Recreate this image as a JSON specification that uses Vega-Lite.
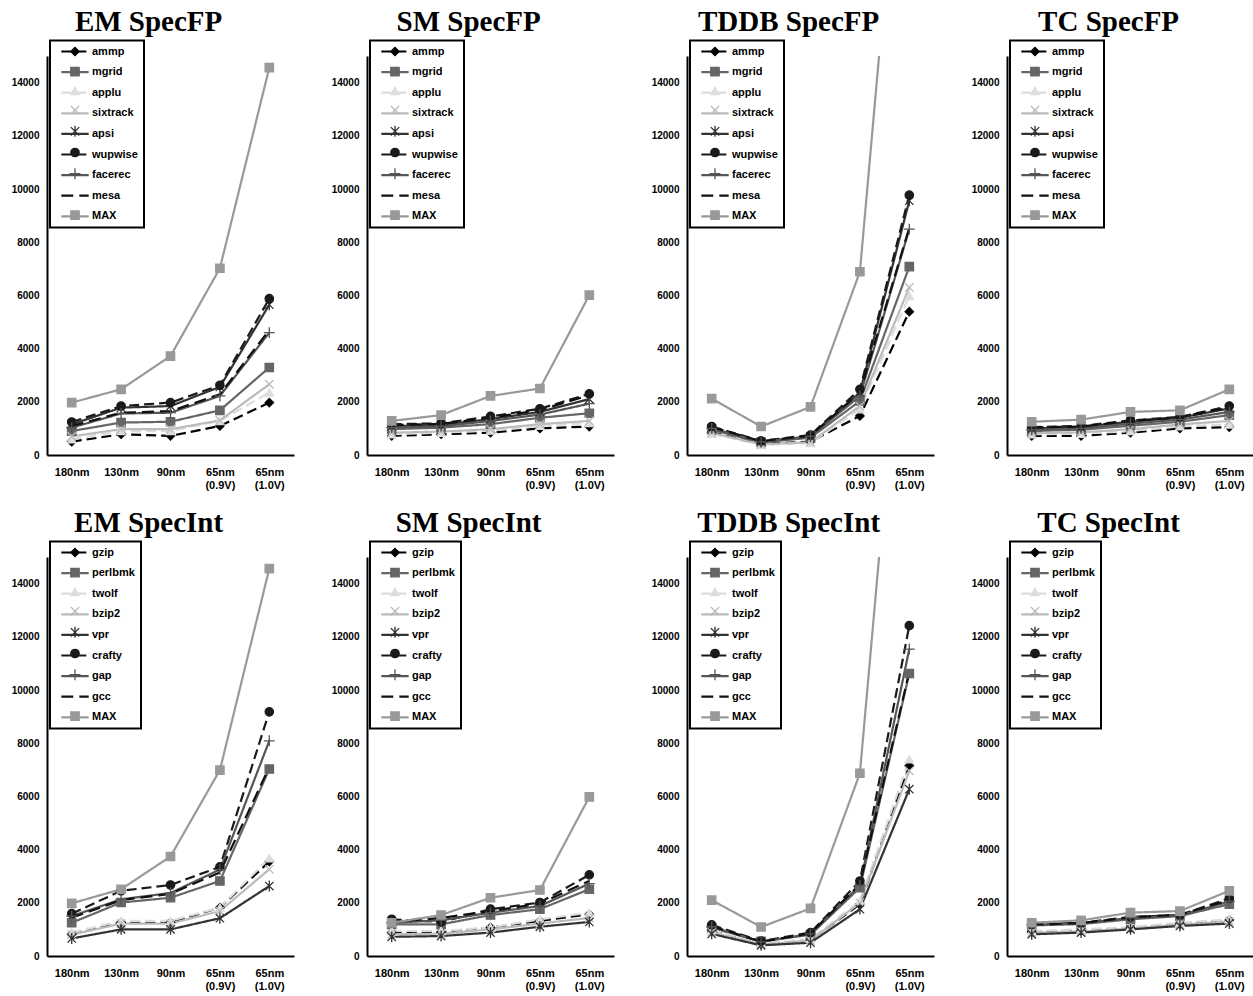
{
"$schema":"https://vega.github.io/schema/vega-lite/v6.json",
"padding":{"left":11,"top":7,"right":0,"bottom":0},
"datasets":{"d":[
{"p":"EF","s":"ammp","n":"180nm","v":500},{"p":"EF","s":"ammp","n":"130nm","v":780},{"p":"EF","s":"ammp","n":"90nm","v":720},{"p":"EF","s":"ammp","n":"65nm (0.9V)","v":1090},{"p":"EF","s":"ammp","n":"65nm (1.0V)","v":1970},
{"p":"EF","s":"mgrid","n":"180nm","v":900},{"p":"EF","s":"mgrid","n":"130nm","v":1220},{"p":"EF","s":"mgrid","n":"90nm","v":1250},{"p":"EF","s":"mgrid","n":"65nm (0.9V)","v":1680},{"p":"EF","s":"mgrid","n":"65nm (1.0V)","v":3290},
{"p":"EF","s":"applu","n":"180nm","v":590},{"p":"EF","s":"applu","n":"130nm","v":900},{"p":"EF","s":"applu","n":"90nm","v":900},{"p":"EF","s":"applu","n":"65nm (0.9V)","v":1280},{"p":"EF","s":"applu","n":"65nm (1.0V)","v":2350},
{"p":"EF","s":"sixtrack","n":"180nm","v":700},{"p":"EF","s":"sixtrack","n":"130nm","v":970},{"p":"EF","s":"sixtrack","n":"90nm","v":970},{"p":"EF","s":"sixtrack","n":"65nm (0.9V)","v":1300},{"p":"EF","s":"sixtrack","n":"65nm (1.0V)","v":2660},
{"p":"EF","s":"apsi","n":"180nm","v":1150},{"p":"EF","s":"apsi","n":"130nm","v":1780},{"p":"EF","s":"apsi","n":"90nm","v":1840},{"p":"EF","s":"apsi","n":"65nm (0.9V)","v":2560},{"p":"EF","s":"apsi","n":"65nm (1.0V)","v":5650},
{"p":"EF","s":"wupwise","n":"180nm","v":1240},{"p":"EF","s":"wupwise","n":"130nm","v":1840},{"p":"EF","s":"wupwise","n":"90nm","v":1970},{"p":"EF","s":"wupwise","n":"65nm (0.9V)","v":2620},{"p":"EF","s":"wupwise","n":"65nm (1.0V)","v":5880},
{"p":"EF","s":"facerec","n":"180nm","v":1030},{"p":"EF","s":"facerec","n":"130nm","v":1560},{"p":"EF","s":"facerec","n":"90nm","v":1590},{"p":"EF","s":"facerec","n":"65nm (0.9V)","v":2220},{"p":"EF","s":"facerec","n":"65nm (1.0V)","v":4600},
{"p":"EF","s":"mesa","n":"180nm","v":1090},{"p":"EF","s":"mesa","n":"130nm","v":1590},{"p":"EF","s":"mesa","n":"90nm","v":1650},{"p":"EF","s":"mesa","n":"65nm (0.9V)","v":2280},{"p":"EF","s":"mesa","n":"65nm (1.0V)","v":4700},
{"p":"EF","s":"MAX","n":"180nm","v":1970},{"p":"EF","s":"MAX","n":"130nm","v":2470},{"p":"EF","s":"MAX","n":"90nm","v":3720},{"p":"EF","s":"MAX","n":"65nm (0.9V)","v":7020},{"p":"EF","s":"MAX","n":"65nm (1.0V)","v":14560},
{"p":"SF","s":"ammp","n":"180nm","v":720},{"p":"SF","s":"ammp","n":"130nm","v":780},{"p":"SF","s":"ammp","n":"90nm","v":840},{"p":"SF","s":"ammp","n":"65nm (0.9V)","v":1000},{"p":"SF","s":"ammp","n":"65nm (1.0V)","v":1070},
{"p":"SF","s":"mgrid","n":"180nm","v":970},{"p":"SF","s":"mgrid","n":"130nm","v":1030},{"p":"SF","s":"mgrid","n":"90nm","v":1160},{"p":"SF","s":"mgrid","n":"65nm (0.9V)","v":1400},{"p":"SF","s":"mgrid","n":"65nm (1.0V)","v":1570},
{"p":"SF","s":"applu","n":"180nm","v":780},{"p":"SF","s":"applu","n":"130nm","v":840},{"p":"SF","s":"applu","n":"90nm","v":920},{"p":"SF","s":"applu","n":"65nm (0.9V)","v":1100},{"p":"SF","s":"applu","n":"65nm (1.0V)","v":1200},
{"p":"SF","s":"sixtrack","n":"180nm","v":840},{"p":"SF","s":"sixtrack","n":"130nm","v":880},{"p":"SF","s":"sixtrack","n":"90nm","v":970},{"p":"SF","s":"sixtrack","n":"65nm (0.9V)","v":1160},{"p":"SF","s":"sixtrack","n":"65nm (1.0V)","v":1280},
{"p":"SF","s":"apsi","n":"180nm","v":1080},{"p":"SF","s":"apsi","n":"130nm","v":1130},{"p":"SF","s":"apsi","n":"90nm","v":1350},{"p":"SF","s":"apsi","n":"65nm (0.9V)","v":1620},{"p":"SF","s":"apsi","n":"65nm (1.0V)","v":2100},
{"p":"SF","s":"wupwise","n":"180nm","v":1160},{"p":"SF","s":"wupwise","n":"130nm","v":1190},{"p":"SF","s":"wupwise","n":"90nm","v":1450},{"p":"SF","s":"wupwise","n":"65nm (0.9V)","v":1740},{"p":"SF","s":"wupwise","n":"65nm (1.0V)","v":2300},
{"p":"SF","s":"facerec","n":"180nm","v":1030},{"p":"SF","s":"facerec","n":"130nm","v":1080},{"p":"SF","s":"facerec","n":"90nm","v":1280},{"p":"SF","s":"facerec","n":"65nm (0.9V)","v":1520},{"p":"SF","s":"facerec","n":"65nm (1.0V)","v":1930},
{"p":"SF","s":"mesa","n":"180nm","v":1120},{"p":"SF","s":"mesa","n":"130nm","v":1170},{"p":"SF","s":"mesa","n":"90nm","v":1400},{"p":"SF","s":"mesa","n":"65nm (0.9V)","v":1690},{"p":"SF","s":"mesa","n":"65nm (1.0V)","v":2250},
{"p":"SF","s":"MAX","n":"180nm","v":1280},{"p":"SF","s":"MAX","n":"130nm","v":1500},{"p":"SF","s":"MAX","n":"90nm","v":2220},{"p":"SF","s":"MAX","n":"65nm (0.9V)","v":2500},{"p":"SF","s":"MAX","n":"65nm (1.0V)","v":6010},
{"p":"TF","s":"ammp","n":"180nm","v":850},{"p":"TF","s":"ammp","n":"130nm","v":420},{"p":"TF","s":"ammp","n":"90nm","v":500},{"p":"TF","s":"ammp","n":"65nm (0.9V)","v":1470},{"p":"TF","s":"ammp","n":"65nm (1.0V)","v":5390},
{"p":"TF","s":"mgrid","n":"180nm","v":950},{"p":"TF","s":"mgrid","n":"130nm","v":470},{"p":"TF","s":"mgrid","n":"90nm","v":650},{"p":"TF","s":"mgrid","n":"65nm (0.9V)","v":2030},{"p":"TF","s":"mgrid","n":"65nm (1.0V)","v":7080},
{"p":"TF","s":"applu","n":"180nm","v":800},{"p":"TF","s":"applu","n":"130nm","v":380},{"p":"TF","s":"applu","n":"90nm","v":450},{"p":"TF","s":"applu","n":"65nm (0.9V)","v":1720},{"p":"TF","s":"applu","n":"65nm (1.0V)","v":5980},
{"p":"TF","s":"sixtrack","n":"180nm","v":830},{"p":"TF","s":"sixtrack","n":"130nm","v":400},{"p":"TF","s":"sixtrack","n":"90nm","v":480},{"p":"TF","s":"sixtrack","n":"65nm (0.9V)","v":1840},{"p":"TF","s":"sixtrack","n":"65nm (1.0V)","v":6300},
{"p":"TF","s":"apsi","n":"180nm","v":1000},{"p":"TF","s":"apsi","n":"130nm","v":500},{"p":"TF","s":"apsi","n":"90nm","v":700},{"p":"TF","s":"apsi","n":"65nm (0.9V)","v":2350},{"p":"TF","s":"apsi","n":"65nm (1.0V)","v":9560},
{"p":"TF","s":"wupwise","n":"180nm","v":1070},{"p":"TF","s":"wupwise","n":"130nm","v":530},{"p":"TF","s":"wupwise","n":"90nm","v":750},{"p":"TF","s":"wupwise","n":"65nm (0.9V)","v":2470},{"p":"TF","s":"wupwise","n":"65nm (1.0V)","v":9770},
{"p":"TF","s":"facerec","n":"180nm","v":1000},{"p":"TF","s":"facerec","n":"130nm","v":490},{"p":"TF","s":"facerec","n":"90nm","v":700},{"p":"TF","s":"facerec","n":"65nm (0.9V)","v":2220},{"p":"TF","s":"facerec","n":"65nm (1.0V)","v":8490},
{"p":"TF","s":"mesa","n":"180nm","v":1050},{"p":"TF","s":"mesa","n":"130nm","v":520},{"p":"TF","s":"mesa","n":"90nm","v":730},{"p":"TF","s":"mesa","n":"65nm (0.9V)","v":2350},{"p":"TF","s":"mesa","n":"65nm (1.0V)","v":8550},
{"p":"TF","s":"MAX","n":"180nm","v":2120},{"p":"TF","s":"MAX","n":"130nm","v":1070},{"p":"TF","s":"MAX","n":"90nm","v":1810},{"p":"TF","s":"MAX","n":"65nm (0.9V)","v":6890},{"p":"TF","s":"MAX","n":"65nm (1.0V)","v":27800},
{"p":"CF","s":"ammp","n":"180nm","v":720},{"p":"CF","s":"ammp","n":"130nm","v":720},{"p":"CF","s":"ammp","n":"90nm","v":840},{"p":"CF","s":"ammp","n":"65nm (0.9V)","v":1000},{"p":"CF","s":"ammp","n":"65nm (1.0V)","v":1050},
{"p":"CF","s":"mgrid","n":"180nm","v":900},{"p":"CF","s":"mgrid","n":"130nm","v":950},{"p":"CF","s":"mgrid","n":"90nm","v":1100},{"p":"CF","s":"mgrid","n":"65nm (0.9V)","v":1250},{"p":"CF","s":"mgrid","n":"65nm (1.0V)","v":1500},
{"p":"CF","s":"applu","n":"180nm","v":780},{"p":"CF","s":"applu","n":"130nm","v":800},{"p":"CF","s":"applu","n":"90nm","v":900},{"p":"CF","s":"applu","n":"65nm (0.9V)","v":1080},{"p":"CF","s":"applu","n":"65nm (1.0V)","v":1150},
{"p":"CF","s":"sixtrack","n":"180nm","v":820},{"p":"CF","s":"sixtrack","n":"130nm","v":850},{"p":"CF","s":"sixtrack","n":"90nm","v":970},{"p":"CF","s":"sixtrack","n":"65nm (0.9V)","v":1150},{"p":"CF","s":"sixtrack","n":"65nm (1.0V)","v":1280},
{"p":"CF","s":"apsi","n":"180nm","v":1000},{"p":"CF","s":"apsi","n":"130nm","v":1050},{"p":"CF","s":"apsi","n":"90nm","v":1250},{"p":"CF","s":"apsi","n":"65nm (0.9V)","v":1400},{"p":"CF","s":"apsi","n":"65nm (1.0V)","v":1750},
{"p":"CF","s":"wupwise","n":"180nm","v":1050},{"p":"CF","s":"wupwise","n":"130nm","v":1090},{"p":"CF","s":"wupwise","n":"90nm","v":1300},{"p":"CF","s":"wupwise","n":"65nm (0.9V)","v":1430},{"p":"CF","s":"wupwise","n":"65nm (1.0V)","v":1840},
{"p":"CF","s":"facerec","n":"180nm","v":950},{"p":"CF","s":"facerec","n":"130nm","v":1000},{"p":"CF","s":"facerec","n":"90nm","v":1180},{"p":"CF","s":"facerec","n":"65nm (0.9V)","v":1330},{"p":"CF","s":"facerec","n":"65nm (1.0V)","v":1620},
{"p":"CF","s":"mesa","n":"180nm","v":1030},{"p":"CF","s":"mesa","n":"130nm","v":1070},{"p":"CF","s":"mesa","n":"90nm","v":1280},{"p":"CF","s":"mesa","n":"65nm (0.9V)","v":1420},{"p":"CF","s":"mesa","n":"65nm (1.0V)","v":1780},
{"p":"CF","s":"MAX","n":"180nm","v":1250},{"p":"CF","s":"MAX","n":"130nm","v":1330},{"p":"CF","s":"MAX","n":"90nm","v":1620},{"p":"CF","s":"MAX","n":"65nm (0.9V)","v":1680},{"p":"CF","s":"MAX","n":"65nm (1.0V)","v":2470},
{"p":"EI","s":"gzip","n":"180nm","v":815},{"p":"EI","s":"gzip","n":"130nm","v":1260},{"p":"EI","s":"gzip","n":"90nm","v":1260},{"p":"EI","s":"gzip","n":"65nm (0.9V)","v":1820},{"p":"EI","s":"gzip","n":"65nm (1.0V)","v":3550},
{"p":"EI","s":"perlbmk","n":"180nm","v":1250},{"p":"EI","s":"perlbmk","n":"130nm","v":2010},{"p":"EI","s":"perlbmk","n":"90nm","v":2190},{"p":"EI","s":"perlbmk","n":"65nm (0.9V)","v":2820},{"p":"EI","s":"perlbmk","n":"65nm (1.0V)","v":7030},
{"p":"EI","s":"twolf","n":"180nm","v":880},{"p":"EI","s":"twolf","n":"130nm","v":1320},{"p":"EI","s":"twolf","n":"90nm","v":1320},{"p":"EI","s":"twolf","n":"65nm (0.9V)","v":1820},{"p":"EI","s":"twolf","n":"65nm (1.0V)","v":3680},
{"p":"EI","s":"bzip2","n":"180nm","v":800},{"p":"EI","s":"bzip2","n":"130nm","v":1220},{"p":"EI","s":"bzip2","n":"90nm","v":1220},{"p":"EI","s":"bzip2","n":"65nm (0.9V)","v":1690},{"p":"EI","s":"bzip2","n":"65nm (1.0V)","v":3260},
{"p":"EI","s":"vpr","n":"180nm","v":660},{"p":"EI","s":"vpr","n":"130nm","v":1000},{"p":"EI","s":"vpr","n":"90nm","v":1000},{"p":"EI","s":"vpr","n":"65nm (0.9V)","v":1420},{"p":"EI","s":"vpr","n":"65nm (1.0V)","v":2630},
{"p":"EI","s":"crafty","n":"180nm","v":1590},{"p":"EI","s":"crafty","n":"130nm","v":2450},{"p":"EI","s":"crafty","n":"90nm","v":2670},{"p":"EI","s":"crafty","n":"65nm (0.9V)","v":3350},{"p":"EI","s":"crafty","n":"65nm (1.0V)","v":9180},
{"p":"EI","s":"gap","n":"180nm","v":1500},{"p":"EI","s":"gap","n":"130nm","v":2130},{"p":"EI","s":"gap","n":"90nm","v":2370},{"p":"EI","s":"gap","n":"65nm (0.9V)","v":3250},{"p":"EI","s":"gap","n":"65nm (1.0V)","v":8090},
{"p":"EI","s":"gcc","n":"180nm","v":1440},{"p":"EI","s":"gcc","n":"130nm","v":2100},{"p":"EI","s":"gcc","n":"90nm","v":2340},{"p":"EI","s":"gcc","n":"65nm (0.9V)","v":3140},{"p":"EI","s":"gcc","n":"65nm (1.0V)","v":7100},
{"p":"EI","s":"MAX","n":"180nm","v":1980},{"p":"EI","s":"MAX","n":"130nm","v":2510},{"p":"EI","s":"MAX","n":"90nm","v":3740},{"p":"EI","s":"MAX","n":"65nm (0.9V)","v":6990},{"p":"EI","s":"MAX","n":"65nm (1.0V)","v":14560},
{"p":"SI","s":"gzip","n":"180nm","v":880},{"p":"SI","s":"gzip","n":"130nm","v":900},{"p":"SI","s":"gzip","n":"90nm","v":1070},{"p":"SI","s":"gzip","n":"65nm (0.9V)","v":1320},{"p":"SI","s":"gzip","n":"65nm (1.0V)","v":1570},
{"p":"SI","s":"perlbmk","n":"180nm","v":1190},{"p":"SI","s":"perlbmk","n":"130nm","v":1190},{"p":"SI","s":"perlbmk","n":"90nm","v":1540},{"p":"SI","s":"perlbmk","n":"65nm (0.9V)","v":1760},{"p":"SI","s":"perlbmk","n":"65nm (1.0V)","v":2510},
{"p":"SI","s":"twolf","n":"180nm","v":940},{"p":"SI","s":"twolf","n":"130nm","v":940},{"p":"SI","s":"twolf","n":"90nm","v":1070},{"p":"SI","s":"twolf","n":"65nm (0.9V)","v":1380},{"p":"SI","s":"twolf","n":"65nm (1.0V)","v":1630},
{"p":"SI","s":"bzip2","n":"180nm","v":820},{"p":"SI","s":"bzip2","n":"130nm","v":840},{"p":"SI","s":"bzip2","n":"90nm","v":1000},{"p":"SI","s":"bzip2","n":"65nm (0.9V)","v":1220},{"p":"SI","s":"bzip2","n":"65nm (1.0V)","v":1430},
{"p":"SI","s":"vpr","n":"180nm","v":720},{"p":"SI","s":"vpr","n":"130nm","v":750},{"p":"SI","s":"vpr","n":"90nm","v":880},{"p":"SI","s":"vpr","n":"65nm (0.9V)","v":1100},{"p":"SI","s":"vpr","n":"65nm (1.0V)","v":1280},
{"p":"SI","s":"crafty","n":"180nm","v":1380},{"p":"SI","s":"crafty","n":"130nm","v":1280},{"p":"SI","s":"crafty","n":"90nm","v":1760},{"p":"SI","s":"crafty","n":"65nm (0.9V)","v":2010},{"p":"SI","s":"crafty","n":"65nm (1.0V)","v":3050},
{"p":"SI","s":"gap","n":"180nm","v":1250},{"p":"SI","s":"gap","n":"130nm","v":1340},{"p":"SI","s":"gap","n":"90nm","v":1630},{"p":"SI","s":"gap","n":"65nm (0.9V)","v":1880},{"p":"SI","s":"gap","n":"65nm (1.0V)","v":2720},
{"p":"SI","s":"gcc","n":"180nm","v":1280},{"p":"SI","s":"gcc","n":"130nm","v":1430},{"p":"SI","s":"gcc","n":"90nm","v":1690},{"p":"SI","s":"gcc","n":"65nm (0.9V)","v":1970},{"p":"SI","s":"gcc","n":"65nm (1.0V)","v":2820},
{"p":"SI","s":"MAX","n":"180nm","v":1250},{"p":"SI","s":"MAX","n":"130nm","v":1540},{"p":"SI","s":"MAX","n":"90nm","v":2190},{"p":"SI","s":"MAX","n":"65nm (0.9V)","v":2480},{"p":"SI","s":"MAX","n":"65nm (1.0V)","v":5980},
{"p":"TI","s":"gzip","n":"180nm","v":950},{"p":"TI","s":"gzip","n":"130nm","v":450},{"p":"TI","s":"gzip","n":"90nm","v":600},{"p":"TI","s":"gzip","n":"65nm (0.9V)","v":1950},{"p":"TI","s":"gzip","n":"65nm (1.0V)","v":7150},
{"p":"TI","s":"perlbmk","n":"180nm","v":1050},{"p":"TI","s":"perlbmk","n":"130nm","v":550},{"p":"TI","s":"perlbmk","n":"90nm","v":800},{"p":"TI","s":"perlbmk","n":"65nm (0.9V)","v":2570},{"p":"TI","s":"perlbmk","n":"65nm (1.0V)","v":10620},
{"p":"TI","s":"twolf","n":"180nm","v":980},{"p":"TI","s":"twolf","n":"130nm","v":470},{"p":"TI","s":"twolf","n":"90nm","v":650},{"p":"TI","s":"twolf","n":"65nm (0.9V)","v":2070},{"p":"TI","s":"twolf","n":"65nm (1.0V)","v":7400},
{"p":"TI","s":"bzip2","n":"180nm","v":900},{"p":"TI","s":"bzip2","n":"130nm","v":430},{"p":"TI","s":"bzip2","n":"90nm","v":580},{"p":"TI","s":"bzip2","n":"65nm (0.9V)","v":2000},{"p":"TI","s":"bzip2","n":"65nm (1.0V)","v":6960},
{"p":"TI","s":"vpr","n":"180nm","v":830},{"p":"TI","s":"vpr","n":"130nm","v":400},{"p":"TI","s":"vpr","n":"90nm","v":500},{"p":"TI","s":"vpr","n":"65nm (0.9V)","v":1760},{"p":"TI","s":"vpr","n":"65nm (1.0V)","v":6270},
{"p":"TI","s":"crafty","n":"180nm","v":1170},{"p":"TI","s":"crafty","n":"130nm","v":560},{"p":"TI","s":"crafty","n":"90nm","v":880},{"p":"TI","s":"crafty","n":"65nm (0.9V)","v":2820},{"p":"TI","s":"crafty","n":"65nm (1.0V)","v":12420},
{"p":"TI","s":"gap","n":"180nm","v":1100},{"p":"TI","s":"gap","n":"130nm","v":530},{"p":"TI","s":"gap","n":"90nm","v":830},{"p":"TI","s":"gap","n":"65nm (0.9V)","v":2650},{"p":"TI","s":"gap","n":"65nm (1.0V)","v":11540},
{"p":"TI","s":"gcc","n":"180nm","v":1120},{"p":"TI","s":"gcc","n":"130nm","v":540},{"p":"TI","s":"gcc","n":"90nm","v":850},{"p":"TI","s":"gcc","n":"65nm (0.9V)","v":2700},{"p":"TI","s":"gcc","n":"65nm (1.0V)","v":10700},
{"p":"TI","s":"MAX","n":"180nm","v":2100},{"p":"TI","s":"MAX","n":"130nm","v":1090},{"p":"TI","s":"MAX","n":"90nm","v":1790},{"p":"TI","s":"MAX","n":"65nm (0.9V)","v":6870},{"p":"TI","s":"MAX","n":"65nm (1.0V)","v":27800},
{"p":"CI","s":"gzip","n":"180nm","v":900},{"p":"CI","s":"gzip","n":"130nm","v":950},{"p":"CI","s":"gzip","n":"90nm","v":1050},{"p":"CI","s":"gzip","n":"65nm (0.9V)","v":1200},{"p":"CI","s":"gzip","n":"65nm (1.0V)","v":1350},
{"p":"CI","s":"perlbmk","n":"180nm","v":1150},{"p":"CI","s":"perlbmk","n":"130nm","v":1200},{"p":"CI","s":"perlbmk","n":"90nm","v":1380},{"p":"CI","s":"perlbmk","n":"65nm (0.9V)","v":1500},{"p":"CI","s":"perlbmk","n":"65nm (1.0V)","v":1950},
{"p":"CI","s":"twolf","n":"180nm","v":940},{"p":"CI","s":"twolf","n":"130nm","v":1000},{"p":"CI","s":"twolf","n":"90nm","v":1090},{"p":"CI","s":"twolf","n":"65nm (0.9V)","v":1250},{"p":"CI","s":"twolf","n":"65nm (1.0V)","v":1380},
{"p":"CI","s":"bzip2","n":"180nm","v":870},{"p":"CI","s":"bzip2","n":"130nm","v":920},{"p":"CI","s":"bzip2","n":"90nm","v":1030},{"p":"CI","s":"bzip2","n":"65nm (0.9V)","v":1180},{"p":"CI","s":"bzip2","n":"65nm (1.0V)","v":1300},
{"p":"CI","s":"vpr","n":"180nm","v":815},{"p":"CI","s":"vpr","n":"130nm","v":880},{"p":"CI","s":"vpr","n":"90nm","v":1000},{"p":"CI","s":"vpr","n":"65nm (0.9V)","v":1130},{"p":"CI","s":"vpr","n":"65nm (1.0V)","v":1220},
{"p":"CI","s":"crafty","n":"180nm","v":1190},{"p":"CI","s":"crafty","n":"130nm","v":1250},{"p":"CI","s":"crafty","n":"90nm","v":1470},{"p":"CI","s":"crafty","n":"65nm (0.9V)","v":1540},{"p":"CI","s":"crafty","n":"65nm (1.0V)","v":2170},
{"p":"CI","s":"gap","n":"180nm","v":1170},{"p":"CI","s":"gap","n":"130nm","v":1230},{"p":"CI","s":"gap","n":"90nm","v":1430},{"p":"CI","s":"gap","n":"65nm (0.9V)","v":1520},{"p":"CI","s":"gap","n":"65nm (1.0V)","v":2050},
{"p":"CI","s":"gcc","n":"180nm","v":1180},{"p":"CI","s":"gcc","n":"130nm","v":1240},{"p":"CI","s":"gcc","n":"90nm","v":1450},{"p":"CI","s":"gcc","n":"65nm (0.9V)","v":1560},{"p":"CI","s":"gcc","n":"65nm (1.0V)","v":2100},
{"p":"CI","s":"MAX","n":"180nm","v":1250},{"p":"CI","s":"MAX","n":"130nm","v":1340},{"p":"CI","s":"MAX","n":"90nm","v":1630},{"p":"CI","s":"MAX","n":"65nm (0.9V)","v":1690},{"p":"CI","s":"MAX","n":"65nm (1.0V)","v":2450}
]},
"data":{"name":"d"},
"columns":4,
"bounds":"flush",
"spacing":{"row":102,"column":73},
"concat":[
{"title":"EM SpecFP","transform":[{"filter":"datum.p=='EF'"}],"width":247,"height":399,
"encoding":{"x":{"field":"n","type":"ordinal","title":null,"scale":{"type":"point","domain":["180nm","130nm","90nm","65nm (0.9V)","65nm (1.0V)"],"padding":0.5}},"y":{"field":"v","type":"quantitative","title":null,"scale":{"domain":[0,15000],"nice":false},"axis":{"values":[0,2000,4000,6000,8000,10000,12000,14000]}}},
"layer":[
{"mark":{"type":"line","clip":true,"strokeWidth":2.2},"encoding":{"color":{"field":"s","type":"nominal","scale":{"domain":["ammp","mgrid","applu","sixtrack","apsi","wupwise","facerec","mesa","MAX"],"range":["#000000","#666666","#dddddd","#bbbbbb","#333333","#1a1a1a","#555555","#111111","#999999"]},"legend":{"orient":"none","legendX":3,"legendY":-15.5,"title":null,"symbolType":"M-3.27,0H3.27","symbolStrokeWidth":2.2,"zindex":1}},"strokeDash":{"field":"s","type":"nominal","scale":{"domain":["ammp","mgrid","applu","sixtrack","apsi","wupwise","facerec","mesa","MAX"],"range":[[10,5],[1,0],[10,5],[1,0],[1,0],[10,5],[1,0],[12,6],[1,0]]},"legend":null}}},
{"transform":[{"filter":"datum.s!='mesa'&&datum.s!='gcc'"}],"mark":{"type":"point","clip":true,"filled":true,"opacity":1,"size":70,"strokeWidth":1.3},"encoding":{"shape":{"field":"s","type":"nominal","scale":{"domain":["ammp","mgrid","applu","sixtrack","apsi","wupwise","facerec","mesa","MAX","zz"],"range":["diamond","square","triangle-up","M-1,-1L1,1M-1,1L1,-1","M-1,-1L1,1M-1,1L1,-1M0,-1.3V1.3","circle","M-1.3,0H1.3M0,-1.3V1.3","circle","square","circle"]},"legend":{"orient":"none","legendX":3,"legendY":-15.5,"title":null,"values":["ammp","mgrid","applu","sixtrack","apsi","wupwise","facerec","mesa","MAX"],"strokeColor":"transparent","labelExpr":"''","rowPadding":5.2,"symbolStrokeWidth":1.3,"zindex":2}},"fill":{"field":"s","type":"nominal","scale":{"domain":["ammp","mgrid","applu","sixtrack","apsi","wupwise","facerec","mesa","MAX","zz"],"range":["#000000","#666666","#dddddd","#bbbbbb","#333333","#1a1a1a","#555555","transparent","#999999","transparent"]},"legend":null},"stroke":{"field":"s","type":"nominal","scale":{"domain":["ammp","mgrid","applu","sixtrack","apsi","wupwise","facerec","mesa","MAX","zz"],"range":["#000000","#666666","#dddddd","#bbbbbb","#333333","#1a1a1a","#555555","transparent","#999999","transparent"]},"legend":null}}}
]},
{"title":"SM SpecFP","transform":[{"filter":"datum.p=='SF'"}],"width":247,"height":399,
"encoding":{"x":{"field":"n","type":"ordinal","title":null,"scale":{"type":"point","domain":["180nm","130nm","90nm","65nm (0.9V)","65nm (1.0V)"],"padding":0.5}},"y":{"field":"v","type":"quantitative","title":null,"scale":{"domain":[0,15000],"nice":false},"axis":{"values":[0,2000,4000,6000,8000,10000,12000,14000]}}},
"layer":[
{"mark":{"type":"line","clip":true,"strokeWidth":2.2},"encoding":{"color":{"field":"s","type":"nominal","scale":{"domain":["ammp","mgrid","applu","sixtrack","apsi","wupwise","facerec","mesa","MAX"],"range":["#000000","#666666","#dddddd","#bbbbbb","#333333","#1a1a1a","#555555","#111111","#999999"]},"legend":{"orient":"none","legendX":3,"legendY":-15.5,"title":null,"symbolType":"M-3.27,0H3.27","symbolStrokeWidth":2.2,"zindex":1}},"strokeDash":{"field":"s","type":"nominal","scale":{"domain":["ammp","mgrid","applu","sixtrack","apsi","wupwise","facerec","mesa","MAX"],"range":[[10,5],[1,0],[10,5],[1,0],[1,0],[10,5],[1,0],[12,6],[1,0]]},"legend":null}}},
{"transform":[{"filter":"datum.s!='mesa'&&datum.s!='gcc'"}],"mark":{"type":"point","clip":true,"filled":true,"opacity":1,"size":70,"strokeWidth":1.3},"encoding":{"shape":{"field":"s","type":"nominal","scale":{"domain":["ammp","mgrid","applu","sixtrack","apsi","wupwise","facerec","mesa","MAX","zz"],"range":["diamond","square","triangle-up","M-1,-1L1,1M-1,1L1,-1","M-1,-1L1,1M-1,1L1,-1M0,-1.3V1.3","circle","M-1.3,0H1.3M0,-1.3V1.3","circle","square","circle"]},"legend":{"orient":"none","legendX":3,"legendY":-15.5,"title":null,"values":["ammp","mgrid","applu","sixtrack","apsi","wupwise","facerec","mesa","MAX"],"strokeColor":"transparent","labelExpr":"''","rowPadding":5.2,"symbolStrokeWidth":1.3,"zindex":2}},"fill":{"field":"s","type":"nominal","scale":{"domain":["ammp","mgrid","applu","sixtrack","apsi","wupwise","facerec","mesa","MAX","zz"],"range":["#000000","#666666","#dddddd","#bbbbbb","#333333","#1a1a1a","#555555","transparent","#999999","transparent"]},"legend":null},"stroke":{"field":"s","type":"nominal","scale":{"domain":["ammp","mgrid","applu","sixtrack","apsi","wupwise","facerec","mesa","MAX","zz"],"range":["#000000","#666666","#dddddd","#bbbbbb","#333333","#1a1a1a","#555555","transparent","#999999","transparent"]},"legend":null}}}
]},
{"title":"TDDB SpecFP","transform":[{"filter":"datum.p=='TF'"}],"width":247,"height":399,
"encoding":{"x":{"field":"n","type":"ordinal","title":null,"scale":{"type":"point","domain":["180nm","130nm","90nm","65nm (0.9V)","65nm (1.0V)"],"padding":0.5}},"y":{"field":"v","type":"quantitative","title":null,"scale":{"domain":[0,15000],"nice":false},"axis":{"values":[0,2000,4000,6000,8000,10000,12000,14000]}}},
"layer":[
{"mark":{"type":"line","clip":true,"strokeWidth":2.2},"encoding":{"color":{"field":"s","type":"nominal","scale":{"domain":["ammp","mgrid","applu","sixtrack","apsi","wupwise","facerec","mesa","MAX"],"range":["#000000","#666666","#dddddd","#bbbbbb","#333333","#1a1a1a","#555555","#111111","#999999"]},"legend":{"orient":"none","legendX":3,"legendY":-15.5,"title":null,"symbolType":"M-3.27,0H3.27","symbolStrokeWidth":2.2,"zindex":1}},"strokeDash":{"field":"s","type":"nominal","scale":{"domain":["ammp","mgrid","applu","sixtrack","apsi","wupwise","facerec","mesa","MAX"],"range":[[10,5],[1,0],[10,5],[1,0],[1,0],[10,5],[1,0],[12,6],[1,0]]},"legend":null}}},
{"transform":[{"filter":"datum.s!='mesa'&&datum.s!='gcc'"}],"mark":{"type":"point","clip":true,"filled":true,"opacity":1,"size":70,"strokeWidth":1.3},"encoding":{"shape":{"field":"s","type":"nominal","scale":{"domain":["ammp","mgrid","applu","sixtrack","apsi","wupwise","facerec","mesa","MAX","zz"],"range":["diamond","square","triangle-up","M-1,-1L1,1M-1,1L1,-1","M-1,-1L1,1M-1,1L1,-1M0,-1.3V1.3","circle","M-1.3,0H1.3M0,-1.3V1.3","circle","square","circle"]},"legend":{"orient":"none","legendX":3,"legendY":-15.5,"title":null,"values":["ammp","mgrid","applu","sixtrack","apsi","wupwise","facerec","mesa","MAX"],"strokeColor":"transparent","labelExpr":"''","rowPadding":5.2,"symbolStrokeWidth":1.3,"zindex":2}},"fill":{"field":"s","type":"nominal","scale":{"domain":["ammp","mgrid","applu","sixtrack","apsi","wupwise","facerec","mesa","MAX","zz"],"range":["#000000","#666666","#dddddd","#bbbbbb","#333333","#1a1a1a","#555555","transparent","#999999","transparent"]},"legend":null},"stroke":{"field":"s","type":"nominal","scale":{"domain":["ammp","mgrid","applu","sixtrack","apsi","wupwise","facerec","mesa","MAX","zz"],"range":["#000000","#666666","#dddddd","#bbbbbb","#333333","#1a1a1a","#555555","transparent","#999999","transparent"]},"legend":null}}}
]},
{"title":"TC SpecFP","transform":[{"filter":"datum.p=='CF'"}],"width":247,"height":399,
"encoding":{"x":{"field":"n","type":"ordinal","title":null,"scale":{"type":"point","domain":["180nm","130nm","90nm","65nm (0.9V)","65nm (1.0V)"],"padding":0.5}},"y":{"field":"v","type":"quantitative","title":null,"scale":{"domain":[0,15000],"nice":false},"axis":{"values":[0,2000,4000,6000,8000,10000,12000,14000]}}},
"layer":[
{"mark":{"type":"line","clip":true,"strokeWidth":2.2},"encoding":{"color":{"field":"s","type":"nominal","scale":{"domain":["ammp","mgrid","applu","sixtrack","apsi","wupwise","facerec","mesa","MAX"],"range":["#000000","#666666","#dddddd","#bbbbbb","#333333","#1a1a1a","#555555","#111111","#999999"]},"legend":{"orient":"none","legendX":3,"legendY":-15.5,"title":null,"symbolType":"M-3.27,0H3.27","symbolStrokeWidth":2.2,"zindex":1}},"strokeDash":{"field":"s","type":"nominal","scale":{"domain":["ammp","mgrid","applu","sixtrack","apsi","wupwise","facerec","mesa","MAX"],"range":[[10,5],[1,0],[10,5],[1,0],[1,0],[10,5],[1,0],[12,6],[1,0]]},"legend":null}}},
{"transform":[{"filter":"datum.s!='mesa'&&datum.s!='gcc'"}],"mark":{"type":"point","clip":true,"filled":true,"opacity":1,"size":70,"strokeWidth":1.3},"encoding":{"shape":{"field":"s","type":"nominal","scale":{"domain":["ammp","mgrid","applu","sixtrack","apsi","wupwise","facerec","mesa","MAX","zz"],"range":["diamond","square","triangle-up","M-1,-1L1,1M-1,1L1,-1","M-1,-1L1,1M-1,1L1,-1M0,-1.3V1.3","circle","M-1.3,0H1.3M0,-1.3V1.3","circle","square","circle"]},"legend":{"orient":"none","legendX":3,"legendY":-15.5,"title":null,"values":["ammp","mgrid","applu","sixtrack","apsi","wupwise","facerec","mesa","MAX"],"strokeColor":"transparent","labelExpr":"''","rowPadding":5.2,"symbolStrokeWidth":1.3,"zindex":2}},"fill":{"field":"s","type":"nominal","scale":{"domain":["ammp","mgrid","applu","sixtrack","apsi","wupwise","facerec","mesa","MAX","zz"],"range":["#000000","#666666","#dddddd","#bbbbbb","#333333","#1a1a1a","#555555","transparent","#999999","transparent"]},"legend":null},"stroke":{"field":"s","type":"nominal","scale":{"domain":["ammp","mgrid","applu","sixtrack","apsi","wupwise","facerec","mesa","MAX","zz"],"range":["#000000","#666666","#dddddd","#bbbbbb","#333333","#1a1a1a","#555555","transparent","#999999","transparent"]},"legend":null}}}
]},
{"title":"EM SpecInt","transform":[{"filter":"datum.p=='EI'"}],"width":247,"height":399,
"encoding":{"x":{"field":"n","type":"ordinal","title":null,"scale":{"type":"point","domain":["180nm","130nm","90nm","65nm (0.9V)","65nm (1.0V)"],"padding":0.5}},"y":{"field":"v","type":"quantitative","title":null,"scale":{"domain":[0,15000],"nice":false},"axis":{"values":[0,2000,4000,6000,8000,10000,12000,14000]}}},
"layer":[
{"mark":{"type":"line","clip":true,"strokeWidth":2.2},"encoding":{"color":{"field":"s","type":"nominal","scale":{"domain":["gzip","perlbmk","twolf","bzip2","vpr","crafty","gap","gcc","MAX"],"range":["#000000","#666666","#dddddd","#bbbbbb","#333333","#1a1a1a","#555555","#111111","#999999"]},"legend":{"orient":"none","legendX":3,"legendY":-15.5,"title":null,"symbolType":"M-3.27,0H3.27","symbolStrokeWidth":2.2,"zindex":1}},"strokeDash":{"field":"s","type":"nominal","scale":{"domain":["gzip","perlbmk","twolf","bzip2","vpr","crafty","gap","gcc","MAX"],"range":[[10,5],[1,0],[10,5],[1,0],[1,0],[10,5],[1,0],[12,6],[1,0]]},"legend":null}}},
{"transform":[{"filter":"datum.s!='mesa'&&datum.s!='gcc'"}],"mark":{"type":"point","clip":true,"filled":true,"opacity":1,"size":70,"strokeWidth":1.3},"encoding":{"shape":{"field":"s","type":"nominal","scale":{"domain":["gzip","perlbmk","twolf","bzip2","vpr","crafty","gap","gcc","MAX","zz"],"range":["diamond","square","triangle-up","M-1,-1L1,1M-1,1L1,-1","M-1,-1L1,1M-1,1L1,-1M0,-1.3V1.3","circle","M-1.3,0H1.3M0,-1.3V1.3","circle","square","circle"]},"legend":{"orient":"none","legendX":3,"legendY":-15.5,"title":null,"values":["gzip","perlbmk","twolf","bzip2","vpr","crafty","gap","gcc","MAX"],"strokeColor":"transparent","labelExpr":"''","rowPadding":5.2,"symbolStrokeWidth":1.3,"zindex":2}},"fill":{"field":"s","type":"nominal","scale":{"domain":["gzip","perlbmk","twolf","bzip2","vpr","crafty","gap","gcc","MAX","zz"],"range":["#000000","#666666","#dddddd","#bbbbbb","#333333","#1a1a1a","#555555","transparent","#999999","transparent"]},"legend":null},"stroke":{"field":"s","type":"nominal","scale":{"domain":["gzip","perlbmk","twolf","bzip2","vpr","crafty","gap","gcc","MAX","zz"],"range":["#000000","#666666","#dddddd","#bbbbbb","#333333","#1a1a1a","#555555","transparent","#999999","transparent"]},"legend":null}}}
]},
{"title":"SM SpecInt","transform":[{"filter":"datum.p=='SI'"}],"width":247,"height":399,
"encoding":{"x":{"field":"n","type":"ordinal","title":null,"scale":{"type":"point","domain":["180nm","130nm","90nm","65nm (0.9V)","65nm (1.0V)"],"padding":0.5}},"y":{"field":"v","type":"quantitative","title":null,"scale":{"domain":[0,15000],"nice":false},"axis":{"values":[0,2000,4000,6000,8000,10000,12000,14000]}}},
"layer":[
{"mark":{"type":"line","clip":true,"strokeWidth":2.2},"encoding":{"color":{"field":"s","type":"nominal","scale":{"domain":["gzip","perlbmk","twolf","bzip2","vpr","crafty","gap","gcc","MAX"],"range":["#000000","#666666","#dddddd","#bbbbbb","#333333","#1a1a1a","#555555","#111111","#999999"]},"legend":{"orient":"none","legendX":3,"legendY":-15.5,"title":null,"symbolType":"M-3.27,0H3.27","symbolStrokeWidth":2.2,"zindex":1}},"strokeDash":{"field":"s","type":"nominal","scale":{"domain":["gzip","perlbmk","twolf","bzip2","vpr","crafty","gap","gcc","MAX"],"range":[[10,5],[1,0],[10,5],[1,0],[1,0],[10,5],[1,0],[12,6],[1,0]]},"legend":null}}},
{"transform":[{"filter":"datum.s!='mesa'&&datum.s!='gcc'"}],"mark":{"type":"point","clip":true,"filled":true,"opacity":1,"size":70,"strokeWidth":1.3},"encoding":{"shape":{"field":"s","type":"nominal","scale":{"domain":["gzip","perlbmk","twolf","bzip2","vpr","crafty","gap","gcc","MAX","zz"],"range":["diamond","square","triangle-up","M-1,-1L1,1M-1,1L1,-1","M-1,-1L1,1M-1,1L1,-1M0,-1.3V1.3","circle","M-1.3,0H1.3M0,-1.3V1.3","circle","square","circle"]},"legend":{"orient":"none","legendX":3,"legendY":-15.5,"title":null,"values":["gzip","perlbmk","twolf","bzip2","vpr","crafty","gap","gcc","MAX"],"strokeColor":"transparent","labelExpr":"''","rowPadding":5.2,"symbolStrokeWidth":1.3,"zindex":2}},"fill":{"field":"s","type":"nominal","scale":{"domain":["gzip","perlbmk","twolf","bzip2","vpr","crafty","gap","gcc","MAX","zz"],"range":["#000000","#666666","#dddddd","#bbbbbb","#333333","#1a1a1a","#555555","transparent","#999999","transparent"]},"legend":null},"stroke":{"field":"s","type":"nominal","scale":{"domain":["gzip","perlbmk","twolf","bzip2","vpr","crafty","gap","gcc","MAX","zz"],"range":["#000000","#666666","#dddddd","#bbbbbb","#333333","#1a1a1a","#555555","transparent","#999999","transparent"]},"legend":null}}}
]},
{"title":"TDDB SpecInt","transform":[{"filter":"datum.p=='TI'"}],"width":247,"height":399,
"encoding":{"x":{"field":"n","type":"ordinal","title":null,"scale":{"type":"point","domain":["180nm","130nm","90nm","65nm (0.9V)","65nm (1.0V)"],"padding":0.5}},"y":{"field":"v","type":"quantitative","title":null,"scale":{"domain":[0,15000],"nice":false},"axis":{"values":[0,2000,4000,6000,8000,10000,12000,14000]}}},
"layer":[
{"mark":{"type":"line","clip":true,"strokeWidth":2.2},"encoding":{"color":{"field":"s","type":"nominal","scale":{"domain":["gzip","perlbmk","twolf","bzip2","vpr","crafty","gap","gcc","MAX"],"range":["#000000","#666666","#dddddd","#bbbbbb","#333333","#1a1a1a","#555555","#111111","#999999"]},"legend":{"orient":"none","legendX":3,"legendY":-15.5,"title":null,"symbolType":"M-3.27,0H3.27","symbolStrokeWidth":2.2,"zindex":1}},"strokeDash":{"field":"s","type":"nominal","scale":{"domain":["gzip","perlbmk","twolf","bzip2","vpr","crafty","gap","gcc","MAX"],"range":[[10,5],[1,0],[10,5],[1,0],[1,0],[10,5],[1,0],[12,6],[1,0]]},"legend":null}}},
{"transform":[{"filter":"datum.s!='mesa'&&datum.s!='gcc'"}],"mark":{"type":"point","clip":true,"filled":true,"opacity":1,"size":70,"strokeWidth":1.3},"encoding":{"shape":{"field":"s","type":"nominal","scale":{"domain":["gzip","perlbmk","twolf","bzip2","vpr","crafty","gap","gcc","MAX","zz"],"range":["diamond","square","triangle-up","M-1,-1L1,1M-1,1L1,-1","M-1,-1L1,1M-1,1L1,-1M0,-1.3V1.3","circle","M-1.3,0H1.3M0,-1.3V1.3","circle","square","circle"]},"legend":{"orient":"none","legendX":3,"legendY":-15.5,"title":null,"values":["gzip","perlbmk","twolf","bzip2","vpr","crafty","gap","gcc","MAX"],"strokeColor":"transparent","labelExpr":"''","rowPadding":5.2,"symbolStrokeWidth":1.3,"zindex":2}},"fill":{"field":"s","type":"nominal","scale":{"domain":["gzip","perlbmk","twolf","bzip2","vpr","crafty","gap","gcc","MAX","zz"],"range":["#000000","#666666","#dddddd","#bbbbbb","#333333","#1a1a1a","#555555","transparent","#999999","transparent"]},"legend":null},"stroke":{"field":"s","type":"nominal","scale":{"domain":["gzip","perlbmk","twolf","bzip2","vpr","crafty","gap","gcc","MAX","zz"],"range":["#000000","#666666","#dddddd","#bbbbbb","#333333","#1a1a1a","#555555","transparent","#999999","transparent"]},"legend":null}}}
]},
{"title":"TC SpecInt","transform":[{"filter":"datum.p=='CI'"}],"width":247,"height":399,
"encoding":{"x":{"field":"n","type":"ordinal","title":null,"scale":{"type":"point","domain":["180nm","130nm","90nm","65nm (0.9V)","65nm (1.0V)"],"padding":0.5}},"y":{"field":"v","type":"quantitative","title":null,"scale":{"domain":[0,15000],"nice":false},"axis":{"values":[0,2000,4000,6000,8000,10000,12000,14000]}}},
"layer":[
{"mark":{"type":"line","clip":true,"strokeWidth":2.2},"encoding":{"color":{"field":"s","type":"nominal","scale":{"domain":["gzip","perlbmk","twolf","bzip2","vpr","crafty","gap","gcc","MAX"],"range":["#000000","#666666","#dddddd","#bbbbbb","#333333","#1a1a1a","#555555","#111111","#999999"]},"legend":{"orient":"none","legendX":3,"legendY":-15.5,"title":null,"symbolType":"M-3.27,0H3.27","symbolStrokeWidth":2.2,"zindex":1}},"strokeDash":{"field":"s","type":"nominal","scale":{"domain":["gzip","perlbmk","twolf","bzip2","vpr","crafty","gap","gcc","MAX"],"range":[[10,5],[1,0],[10,5],[1,0],[1,0],[10,5],[1,0],[12,6],[1,0]]},"legend":null}}},
{"transform":[{"filter":"datum.s!='mesa'&&datum.s!='gcc'"}],"mark":{"type":"point","clip":true,"filled":true,"opacity":1,"size":70,"strokeWidth":1.3},"encoding":{"shape":{"field":"s","type":"nominal","scale":{"domain":["gzip","perlbmk","twolf","bzip2","vpr","crafty","gap","gcc","MAX","zz"],"range":["diamond","square","triangle-up","M-1,-1L1,1M-1,1L1,-1","M-1,-1L1,1M-1,1L1,-1M0,-1.3V1.3","circle","M-1.3,0H1.3M0,-1.3V1.3","circle","square","circle"]},"legend":{"orient":"none","legendX":3,"legendY":-15.5,"title":null,"values":["gzip","perlbmk","twolf","bzip2","vpr","crafty","gap","gcc","MAX"],"strokeColor":"transparent","labelExpr":"''","rowPadding":5.2,"symbolStrokeWidth":1.3,"zindex":2}},"fill":{"field":"s","type":"nominal","scale":{"domain":["gzip","perlbmk","twolf","bzip2","vpr","crafty","gap","gcc","MAX","zz"],"range":["#000000","#666666","#dddddd","#bbbbbb","#333333","#1a1a1a","#555555","transparent","#999999","transparent"]},"legend":null},"stroke":{"field":"s","type":"nominal","scale":{"domain":["gzip","perlbmk","twolf","bzip2","vpr","crafty","gap","gcc","MAX","zz"],"range":["#000000","#666666","#dddddd","#bbbbbb","#333333","#1a1a1a","#555555","transparent","#999999","transparent"]},"legend":null}}}
]}
],
"resolve":{"scale":{"color":"independent","strokeDash":"independent","fill":"independent","stroke":"independent","shape":"independent","x":"independent","y":"independent"},"legend":{"color":"independent","fill":"independent","stroke":"independent","shape":"independent","strokeDash":"independent"}},
"config":{
"view":{"stroke":null},
"axis":{"domainColor":"black","domainWidth":2,"ticks":false,"grid":false,"labelFont":"Liberation Sans","labelFontWeight":"bold","labelColor":"black"},
"axisX":{"labelAngle":0,"labelFontSize":11,"labelPadding":11.5,"labelLineHeight":13,"labelExpr":"split(datum.label,' ')"},
"axisY":{"labelFontSize":10,"labelPadding":8,"format":"d"},
"legend":{"padding":5.5,"rowPadding":8.6,"symbolSize":70,"symbolOffset":14,"labelOffset":11.5,"strokeColor":"black","strokeWidth":2,"fillColor":"transparent","labelFont":"Liberation Sans","labelFontSize":11,"labelFontWeight":"bold","labelColor":"black","labelExpr":"datum.label+'     '"},
"title":{"font":"Liberation Serif","fontSize":29,"fontWeight":"bold","color":"black","anchor":"middle","frame":"bounds","dx":-4,"baseline":"alphabetic","offset":3}
}
}
